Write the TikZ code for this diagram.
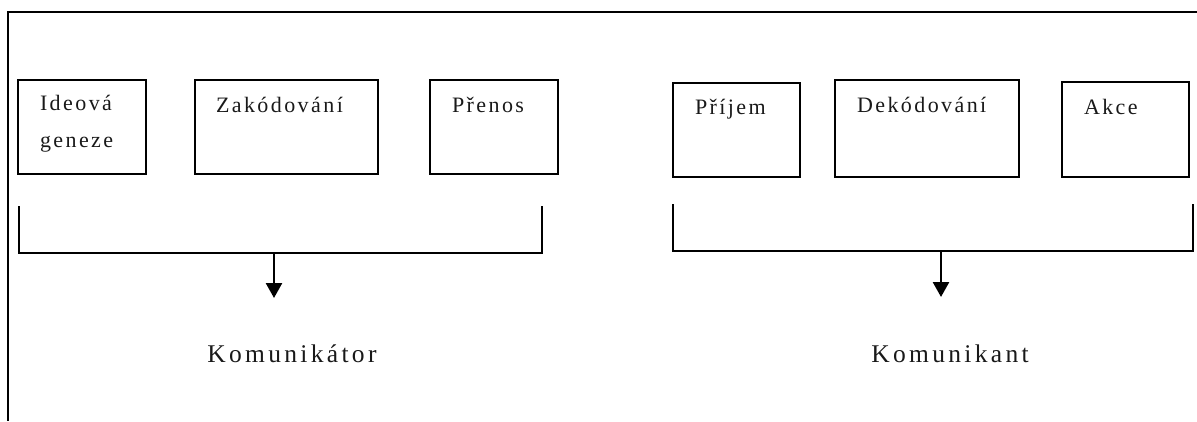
\documentclass[tikz,border=0pt]{standalone}
\usepackage{fontspec}
\usetikzlibrary{arrows.meta}
\newfontfamily\spacedserif[LetterSpace=11]{Liberation Serif}
\newfontfamily\widespacedserif[LetterSpace=13]{Liberation Serif}
\begin{document}
\begin{tikzpicture}[x=1pt,y=-1pt,
  every node/.style={inner sep=0pt, outer sep=0pt},
  stage/.style={draw=black, line width=2.1pt, rectangle, anchor=north west},
  stagetext/.style={anchor=base west, text=black!90, font={\spacedserif\fontsize{22}{26}\selectfont}},
  roletext/.style={anchor=base, text=black!90, font={\widespacedserif\fontsize{25.5}{30}\selectfont}},
  bracket/.style={draw=black, line width=2.1pt},
  pointer/.style={draw=black, line width=2.6pt, -{Triangle[width=16pt,length=15pt]}}]
\useasboundingbox (0,0) rectangle (1197,421);

% open frame: top and left edges
\coordinate (frameTL) at (8,12);
\coordinate (frameTR) at (1197,12);
\coordinate (frameBL) at (8,421);
\draw[line width=2.1pt] (frameTR) -- (frameTL) -- (frameBL);

% stages of the communicator
\node[stage, minimum width=128pt, minimum height=94pt] (ideo) at (18,80) {};
\node[stage, minimum width=183pt, minimum height=94pt] (zakod) at (195,80) {};
\node[stage, minimum width=128pt, minimum height=94pt] (prenos) at (430,80) {};
\node[stagetext] (ideoA) at (40,110) {Ideová};
\node[stagetext] (ideoB) at (40,147) {geneze};
\node[stagetext] (zakodT) at (216,112) {Zakódování};
\node[stagetext] (prenosT) at (452,112) {Přenos};

% stages of the recipient
\node[stage, minimum width=127pt, minimum height=94pt] (prijem) at (673,83) {};
\node[stage, minimum width=184pt, minimum height=97pt] (dekod) at (835,80) {};
\node[stage, minimum width=127pt, minimum height=95pt] (akce) at (1062,82) {};
\node[stagetext] (prijemT) at (695,114) {Příjem};
\node[stagetext] (dekodT) at (857,112) {Dekódování};
\node[stagetext] (akceT) at (1084,114) {Akce};

% left bracket and arrow
\coordinate (lbA) at (19,206);
\coordinate (lbB) at (19,253);
\coordinate (lbC) at (542,253);
\coordinate (lbD) at (542,206);
\draw[bracket] (lbA) -- (lbB) -- (lbC) -- (lbD);
\coordinate (lbMid) at (274,253);
\coordinate (lbTip) at (274,298);
\draw[pointer] (lbMid) -- (lbTip);
\node[roletext] (komunikator) at (292,362) {Komunikátor};

% right bracket and arrow
\coordinate (rbA) at (673,204);
\coordinate (rbB) at (673,251);
\coordinate (rbC) at (1193,251);
\coordinate (rbD) at (1193,204);
\draw[bracket] (rbA) -- (rbB) -- (rbC) -- (rbD);
\coordinate (rbMid) at (941,251);
\coordinate (rbTip) at (941,297);
\draw[pointer] (rbMid) -- (rbTip);
\node[roletext] (komunikant) at (950,362) {Komunikant};
\end{tikzpicture}
\end{document}
